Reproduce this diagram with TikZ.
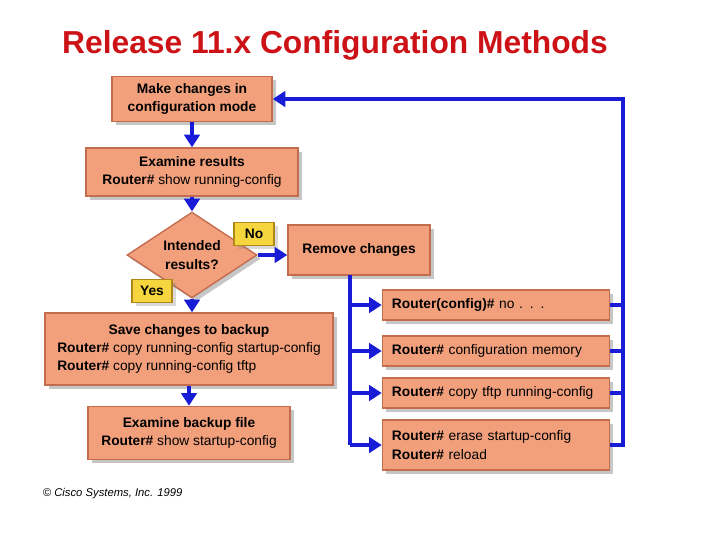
\documentclass[tikz,border=0pt]{standalone}
\usepackage{fontspec}
\setmainfont{Liberation Sans}
\usetikzlibrary{arrows.meta,shapes.geometric,shadows}
\definecolor{salmonbox}{RGB}{242,160,124}
\definecolor{salmonedge}{RGB}{196,108,78}
\definecolor{tagyellow}{RGB}{246,214,62}
\definecolor{tagedge}{RGB}{176,136,24}
\definecolor{flowblue}{RGB}{24,28,214}
\definecolor{titlered}{RGB}{204,18,22}

\begin{document}
\begin{tikzpicture}[x=0.025cm,y=-0.025cm,>={Triangle[length=9pt,width=11pt]},
  every node/.style={font=\fontsize{9.8}{13}\selectfont},
  stepbox/.style={draw=salmonedge,line width=1pt,fill=salmonbox,drop shadow={opacity=0.45},align=center,inner sep=2pt},
  cmdbox/.style={stepbox,minimum width=5.675cm,minimum height=0.75cm,align=left,text width=5.2cm},
  tag/.style={draw=tagedge,fill=tagyellow,line width=0.8pt,font=\fontsize{9.8}{13}\selectfont\bfseries,minimum width=1cm,minimum height=0.57cm,drop shadow={opacity=0.3}},
  flow/.style={flowblue,line width=3.5pt,->},
  bus/.style={flowblue,line width=3.5pt}]
  \useasboundingbox (0,0) rectangle (720,540);

  % title
  \node (title) [font=\fontsize{22.6}{26}\selectfont\bfseries,text=titlered] at (335,45) {Release 11.x Configuration Methods};

  % main column
  \node (make) [stepbox,minimum width=4cm,minimum height=1.125cm] at (192,99) {\textbf{Make changes in}\\\textbf{configuration mode}};
  \node (examine) [stepbox,minimum width=5.3cm,minimum height=1.2cm] at (192,172) {\textbf{Examine results}\\\textbf{Router\#} show running-config};
  \node (decide) [stepbox,diamond,minimum width=3.25cm,minimum height=1.65cm,inner sep=0pt] at (192,255) {\textbf{Intended}\\\textbf{results?}};
  \node (save) [stepbox,minimum width=7.2cm,minimum height=1.8cm] at (189,349) {%
    \begin{tabular}{@{}l@{}}
      \multicolumn{1}{@{}c@{}}{\textbf{Save changes to backup}}\\
      \textbf{Router\#} copy running-config startup-config\\
      \textbf{Router\#} copy running-config tftp
    \end{tabular}};
  \node (backup) [stepbox,minimum width=5.05cm,minimum height=1.33cm] at (189,433) {\textbf{Examine backup file}\\\textbf{Router\#} show startup-config};

  \node (no) [tag] at (254,234) {No};
  \node (yes) [tag] at (152,291) {Yes};

  % removal branch
  \node (remove) [stepbox,minimum width=3.55cm,minimum height=1.25cm] at (359,250) {\textbf{Remove changes}};
  \node (r1) [cmdbox] at (496,305) {\textbf{Router(config)\#} no . . .};
  \node (r2) [cmdbox] at (496,351) {\textbf{Router\#} configuration memory};
  \node (r3) [cmdbox] at (496,393) {\textbf{Router\#} copy tftp running-config};
  \node (r4) [cmdbox,minimum height=1.25cm] at (496,445) {\textbf{Router\#} erase startup-config\\\textbf{Router\#} reload};

  \coordinate (fork) at (350,275);
  \coordinate (back) at (623,99);

  \draw[flow] (make.south) -- (make.south |- examine.north);
  \draw[flow] (examine.south) -- (examine.south |- decide.north);
  \draw[flow] (decide.south) -- (decide.south |- save.north);
  \draw[flow] (save.south) -- (save.south |- backup.north);
  \draw[flow] (decide.east) -- (decide.east -| remove.west);

  \draw[bus] (fork) -- (fork |- r4.west);
  \foreach \r in {r1,r2,r3,r4}
    \draw[flow] (fork |- \r.west) -- (\r.west);

  \foreach \r in {r1,r2,r3}
    \draw[bus] (\r.east) -- (\r.east -| back);
  \draw[flow] (r4.east) -| (back) -- (make.east);

  \node (copyright) [font=\fontsize{8}{10}\selectfont\itshape,anchor=west] at (38,494) {© Cisco Systems, Inc. 1999};
\end{tikzpicture}
\end{document}
